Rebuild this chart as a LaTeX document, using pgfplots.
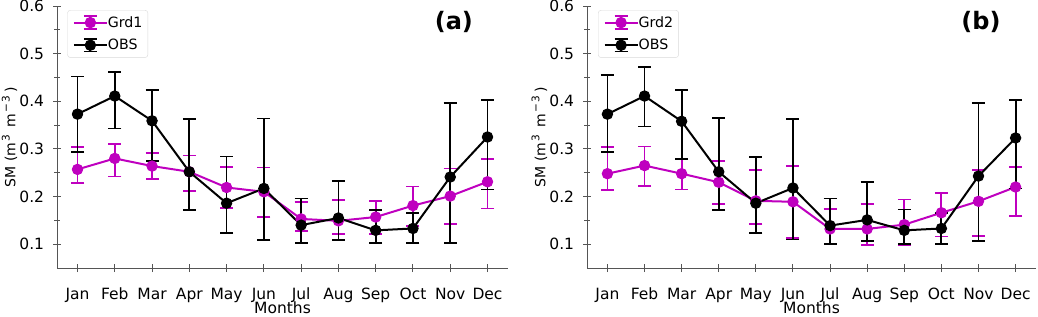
\documentclass[border=0pt]{standalone}
\usepackage{fontspec}
\setmainfont{DejaVu Sans}
\usepackage{pgfplots}
\pgfplotsset{compat=1.18}
\usepackage{pgfplotstable}
\definecolor{mg}{RGB}{191,0,191}
\definecolor{spine}{RGB}{85,85,85}

% x = month index (0=Jan), y = mean, ep/em = error plus/minus
\pgfplotstableread{
x y ep em
0 0.257 0.047 0.028
1 0.280 0.031 0.038
2 0.264 0.027 0.028
3 0.252 0.034 0.040
4 0.219 0.043 0.043
5 0.210 0.051 0.053
6 0.153 0.035 0.025
7 0.149 0.043 0.028
8 0.157 0.033 0.036
9 0.181 0.040 0.043
10 0.201 0.058 0.059
11 0.231 0.047 0.056
}\grdone
\pgfplotstableread{
x y ep em
0 0.373 0.079 0.079
1 0.411 0.050 0.068
2 0.359 0.065 0.084
3 0.252 0.111 0.080
4 0.186 0.098 0.062
5 0.217 0.147 0.108
6 0.140 0.056 0.037
7 0.155 0.078 0.047
8 0.129 0.043 0.026
9 0.133 0.032 0.031
10 0.241 0.156 0.138
11 0.325 0.078 0.110
}\obsa
\pgfplotstableread{
x y ep em
0 0.248 0.056 0.035
1 0.265 0.040 0.043
2 0.248 0.032 0.033
3 0.230 0.044 0.046
4 0.191 0.064 0.048
5 0.189 0.075 0.076
6 0.132 0.042 0.031
7 0.132 0.052 0.034
8 0.141 0.053 0.042
9 0.166 0.041 0.050
10 0.190 0.065 0.072
11 0.220 0.042 0.060
}\grdtwo
\pgfplotstableread{
x y ep em
0 0.373 0.083 0.079
1 0.411 0.061 0.064
2 0.358 0.066 0.080
3 0.252 0.113 0.081
4 0.186 0.097 0.062
5 0.218 0.145 0.108
6 0.139 0.057 0.038
7 0.151 0.079 0.044
8 0.129 0.044 0.028
9 0.133 0.032 0.032
10 0.243 0.154 0.137
11 0.323 0.079 0.106
}\obsb

\newcommand{\supr}[1]{\raisebox{0.42em}{\fontsize{10.5}{11}\selectfont #1}}
\newcommand{\ylabtext}{\fontsize{14}{15}\selectfont SM (m\kern1pt\supr{3}\kern3.5pt\ m\kern1pt\supr{−\kern1.5pt3}\kern3.5pt)}
\newcommand{\legtext}[1]{\fontsize{14.2}{15}\selectfont #1}

\pgfplotsset{
  myax/.style={
    scale only axis, width=451pt, height=262pt,
    xmin=-0.55, xmax=11.55, ymin=0.05, ymax=0.6,
    axis lines=left, axis line style={-, spine, line width=1pt},
    xtick={0,...,11},
    xticklabels={Jan,Feb,Mar,Apr,May,Jun,Jul,Aug,Sep,Oct,Nov,Dec},
    ytick={0.1,0.2,0.3,0.4,0.5,0.6},
    minor ytick={0.15,0.25,0.35,0.45,0.55},
    tick align=center, major tick length=8pt, minor tick length=6pt,
    every tick/.style={spine, line width=1pt},
    /pgf/number format/assume math mode=true,
    /pgf/number format/fixed, /pgf/number format/fixed zerofill,
    /pgf/number format/precision=1,
    tick label style={font=\fontsize{15.5}{16}\selectfont, text=black},
    yticklabel style={anchor=east, inner sep=0pt, xshift=-8.7pt},
    xticklabel style={anchor=base, inner sep=0pt, yshift=-27pt},
    xlabel={Months},
    xlabel style={font=\fontsize{15.5}{16}\selectfont, at={(axis description cs:0.5,0)}, anchor=base, yshift=-45.4pt},
    ylabel={\ylabtext},
    ylabel style={at={(axis description cs:-0.1053,0.5)}, anchor=center, inner sep=0pt, font=\fontsize{14}{15}\selectfont},
    legend style={at={(axis description cs:0.0228,0.9847)}, anchor=north west,
      draw=black!15, fill=white, rounded corners=3pt,
      inner xsep=5.4pt, inner ysep=5.2pt, row sep=8.2pt,
      font=\fontsize{14.2}{15}\selectfont,
      nodes={inner sep=0pt},
      /tikz/every even column/.append style={column sep=12.7pt}},
    legend cell align=left,
    legend image code/.code={%
      \draw[#1, mark=none, line width=2pt] (0pt,0pt) -- (33pt,0pt);
      \draw[#1, mark=none, line width=1.8pt] (16.5pt,-6.3pt) -- (16.5pt,6.3pt)
         (10pt,-6.3pt) -- (23pt,-6.3pt) (10pt,6.3pt) -- (23pt,6.3pt);
      \draw[#1, only marks, mark repeat=2, mark phase=2] plot coordinates {(0pt,0pt) (16.5pt,0pt) (33pt,0pt)};
    },
  },
  mgplot/.style={mg, line width=2pt, mark=*, mark size=5.2pt,
    mark options={solid, fill=mg, draw=mg, line width=1pt},
    error bars/.cd, y dir=both, y explicit,
    error bar style={line width=1.8pt, mg},
    error mark options={mg, line width=1.8pt, mark size=6.5pt, rotate=90}},
  bkplot/.style={black, line width=2pt, mark=*, mark size=5.2pt,
    mark options={solid, fill=black, draw=black, line width=1pt},
    error bars/.cd, y dir=both, y explicit,
    error bar style={line width=1.8pt, black},
    error mark options={black, line width=1.8pt, mark size=6.5pt, rotate=90}},
}

\begin{document}
\begin{tikzpicture}
\path[use as bounding box] (0pt,0pt) rectangle (1038pt,316pt);
\begin{axis}[myax, at={(57pt,48pt)}, anchor=south west, width=451pt]
\addplot[mgplot] table[x=x, y=y, y error plus=ep, y error minus=em] {\grdone};
\addlegendentry{\legtext{Grd1}}
\addplot[bkplot] table[x=x, y=y, y error plus=ep, y error minus=em] {\obsa};
\addlegendentry{\legtext{OBS}}
\node[font=\bfseries\fontsize{24}{24}\selectfont] at (axis description cs:0.880,0.939) {(a)};
\end{axis}
\begin{axis}[myax, at={(587pt,48pt)}, anchor=south west, width=449pt,
  ylabel style={at={(axis description cs:-0.106,0.5)}},
  legend style={at={(axis description cs:0.0245,0.9847)}}]
\addplot[mgplot] table[x=x, y=y, y error plus=ep, y error minus=em] {\grdtwo};
\addlegendentry{\legtext{Grd2}}
\addplot[bkplot] table[x=x, y=y, y error plus=ep, y error minus=em] {\obsb};
\addlegendentry{\legtext{OBS}}
\node[font=\bfseries\fontsize{24}{24}\selectfont] at (axis description cs:0.8775,0.939) {(b)};
\end{axis}
\end{tikzpicture}
\end{document}
